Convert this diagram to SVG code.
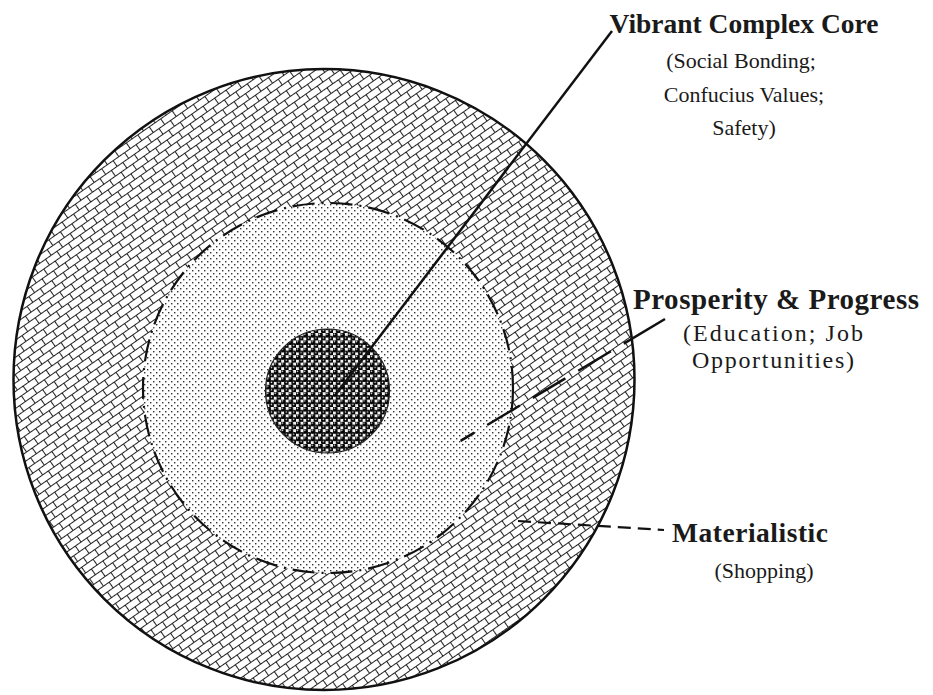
<svg xmlns="http://www.w3.org/2000/svg" width="933" height="695" viewBox="0 0 933 695">
<style>
.ttl{font-family:"Liberation Serif","Times New Roman",serif;font-weight:bold;font-size:27.5px;fill:#1a1a1a;text-anchor:middle}
.sub{font-family:"Liberation Serif","Times New Roman",serif;font-size:22px;fill:#1a1a1a;text-anchor:middle}
.lead{stroke:#111;fill:none;stroke-linecap:butt}
</style>
<defs>
<pattern id="brick" width="14" height="14" patternUnits="userSpaceOnUse" patternTransform="rotate(-35)">
<rect width="14" height="14" fill="#fff"/>
<path d="M0 0.5H14M0 7.5H14M0.5 0.5V7.5M7.5 7.5V14.5" stroke="#222" stroke-width="1.05" fill="none"/>
</pattern>
<pattern id="dots" width="6" height="6" patternUnits="userSpaceOnUse">
<rect width="6" height="6" fill="#fff"/>
<rect x="0" y="0" width="1.4" height="1.4" fill="#333"/>
<rect x="3" y="3" width="1.4" height="1.4" fill="#333"/>
</pattern>
<pattern id="balls" width="7.4" height="7.4" patternUnits="userSpaceOnUse">
<rect width="7.4" height="7.4" fill="#f4f4f4"/>
<circle cx="1.85" cy="1.85" r="2.75" fill="#000"/>
<circle cx="5.55" cy="5.55" r="2.75" fill="#000"/>
<circle cx="1.4" cy="1.3" r="0.75" fill="#e8e8e8"/>
<circle cx="5.1" cy="5.0" r="0.75" fill="#e8e8e8"/>
</pattern>
</defs>
<rect width="933" height="695" fill="#fff"/>
<g id="outer-ring">
<circle cx="324" cy="379.5" r="310.5" fill="url(#brick)" stroke="#111" stroke-width="2.5"/>
</g>
<g id="middle-ring">
<circle cx="328" cy="388" r="185" fill="url(#dots)" stroke="#111" stroke-width="2.2" stroke-dasharray="22 7 2 7"/>
</g>
<g id="core">
<circle cx="327.5" cy="391" r="62" fill="url(#balls)" stroke="#222" stroke-width="1.2"/>
</g>
<g id="connectors">
<line class="lead" x1="612" y1="31" x2="336" y2="394" stroke-width="2.5"/>
<line class="lead" x1="665" y1="319" x2="457" y2="443" stroke-width="2.5" stroke-dasharray="48 15 38 15 38 15 38 15 16"/>
<line class="lead" x1="518" y1="521" x2="664" y2="530" stroke-width="2.2" stroke-dasharray="13 7"/>
</g>
<g id="label-core">
<text class="ttl" x="744" y="33">Vibrant Complex Core</text>
<text class="sub" x="741" y="68">(Social Bonding;</text>
<text class="sub" x="744" y="102">Confucius Values;</text>
<text class="sub" x="744" y="135">Safety)</text>
</g>
<g id="label-prosperity">
<text class="ttl" x="776" y="309" style="font-size:29px" textLength="286" lengthAdjust="spacing">Prosperity &amp; Progress</text>
<text class="sub" x="773" y="341" style="font-size:24px" textLength="180" lengthAdjust="spacing">(Education; Job</text>
<text class="sub" x="773" y="368" style="font-size:24px" textLength="162" lengthAdjust="spacing">Opportunities)</text>
</g>
<g id="label-materialistic">
<text class="ttl" x="750" y="542" textLength="156" lengthAdjust="spacing">Materialistic</text>
<text class="sub" x="764" y="578">(Shopping)</text>
</g>
</svg>
